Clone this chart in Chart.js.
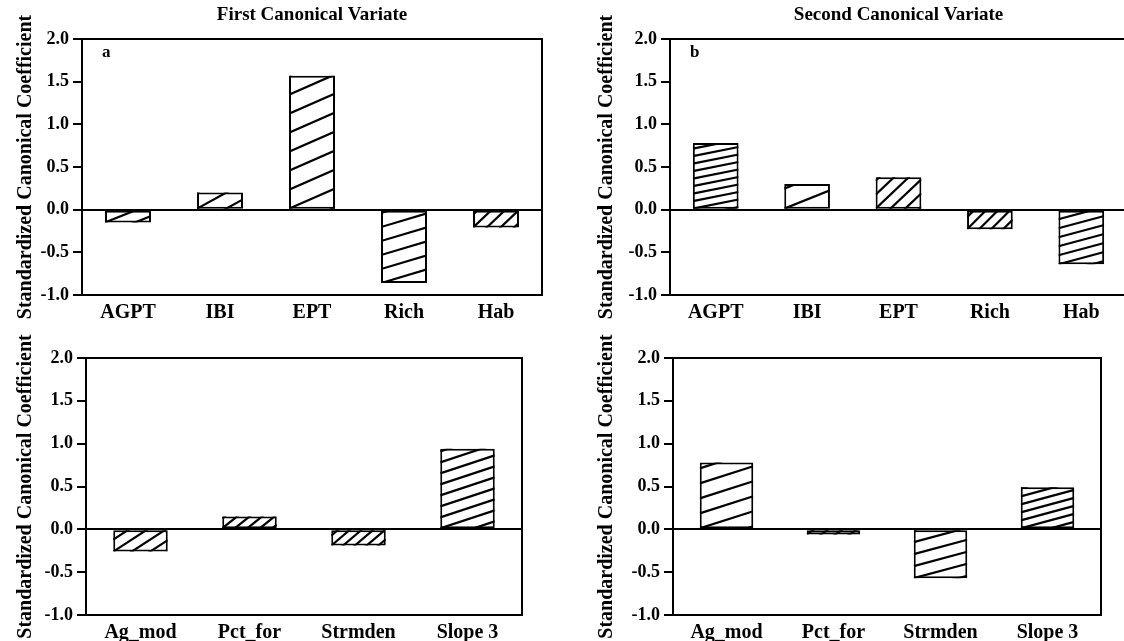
<!DOCTYPE html>
<html>
<head>
<meta charset="utf-8">
<script src="https://cdn.jsdelivr.net/npm/chart.js@4"></script>
<style>
html,body{margin:0;padding:0;background:#fff;overflow:hidden;width:1124px;height:641px;position:relative;}
canvas{position:absolute;}
</style>
</head>
<body>
<canvas id="cA"></canvas>
<canvas id="cB"></canvas>
<canvas id="cC"></canvas>
<canvas id="cD"></canvas>
<script>
// ---- data ----
const bioCategories = ['AGPT', 'IBI', 'EPT', 'Rich', 'Hab'];
const firstBio = [-0.15, 0.20, 1.57, -0.86, -0.21];
const secondBio = [0.78, 0.30, 0.38, -0.23, -0.64];
const landCategories = ['Ag_mod', 'Pct_for', 'Strmden', 'Slope 3'];
const firstLand = [-0.26, 0.15, -0.19, 0.94];
const secondLand = [0.78, -0.06, -0.57, 0.49];
const yTickValues = [-1.0, -0.5, 0.0, 0.5, 1.0, 1.5, 2.0];
const yAxisTitle = 'Standardized Canonical Coefficient';
const titleFirst = 'First Canonical Variate';
const titleSecond = 'Second Canonical Variate';

// ---- styles (hatch: [slope, vertical spacing px]) ----
const hatchA = [[0.4, 12], [0.55, 16], [0.44, 19], [0.3, 14], [0.95, 13]];
const hatchB = [[0.2, 7.5], [0.4, 20], [0.95, 14], [1.0, 12], [0.27, 9]];
const hatchC = [[0.65, 12], [0.8, 10], [0.85, 10], [0.33, 11]];
const hatchD = [[0.32, 15], [0.7, 10], [0.27, 12], [0.27, 8]];

const FONT = "'Liberation Serif', 'DejaVu Serif', serif";

const hatchPlugin = {
  id: 'hatch',
  afterDatasetsDraw(chart, args, opts) {
    const ctx = chart.ctx;
    const meta = chart.getDatasetMeta(0);
    const specs = opts.specs || [];
    meta.data.forEach((bar, i) => {
      const sp = specs[i];
      if (!sp) return;
      const p = bar.getProps(['x', 'y', 'base', 'width'], true);
      const l = p.x - p.width / 2, r = p.x + p.width / 2;
      const t = Math.min(p.y, p.base), b = Math.max(p.y, p.base);
      const w = r - l;
      const slope = sp[0], gap = sp[1];
      ctx.save();
      ctx.beginPath();
      ctx.rect(l, t, w, b - t);
      ctx.clip();
      ctx.strokeStyle = '#000';
      ctx.lineWidth = 2.2;
      const start = b + Math.ceil(slope * w / gap) * gap;
      for (let c = start; c > t - gap; c -= gap) {
        ctx.beginPath();
        ctx.moveTo(l, c);
        ctx.lineTo(r, c - slope * w);
        ctx.stroke();
      }
      ctx.restore();
    });
  }
};

const framePlugin = {
  id: 'frame',
  afterDraw(chart, args, opts) {
    const a = chart.chartArea;
    const ctx = chart.ctx;
    ctx.save();
    ctx.strokeStyle = '#000';
    ctx.lineWidth = 2;
    ctx.strokeRect(a.left, a.top, a.right - a.left, a.bottom - a.top);
    if (opts.letter) {
      ctx.fillStyle = '#000';
      ctx.font = 'bold 17px ' + FONT;
      ctx.textAlign = 'left';
      ctx.textBaseline = 'middle';
      ctx.fillText(opts.letter, a.left + 20, a.top + 14);
    }
    ctx.restore();
  }
};

function makeChart(cfg) {
  const el = document.getElementById(cfg.id);
  el.width = cfg.width;
  el.height = cfg.height;
  el.style.left = cfg.left + 'px';
  el.style.top = cfg.top + 'px';
  el.style.width = cfg.width + 'px';
  el.style.height = cfg.height + 'px';
  new Chart(el, {
    type: 'bar',
    data: {
      labels: cfg.labels,
      datasets: [{
        data: cfg.values,
        backgroundColor: '#fff',
        borderColor: '#000',
        borderWidth: 2,
        borderSkipped: false,
        barPercentage: 0.5,
        categoryPercentage: 1.0
      }]
    },
    options: {
      responsive: false,
      animation: false,
      devicePixelRatio: 1,
      layout: { padding: { top: cfg.padTop, right: cfg.padRight, left: 0, bottom: 0 } },
      plugins: {
        legend: { display: false },
        tooltip: { enabled: false },
        title: {
          display: !!cfg.title,
          text: cfg.title || '',
          fullSize: false,
          color: '#000',
          font: { family: FONT, weight: 'bold', size: 19, lineHeight: 1.2 },
          padding: { top: 4, bottom: 12.2 }
        },
        hatch: { specs: cfg.hatch },
        frame: { letter: cfg.letter }
      },
      scales: {
        x: {
          type: 'category',
          grid: { display: false },
          border: { display: false },
          ticks: { color: '#000', font: { family: FONT, weight: 'bold', size: 20 }, padding: -2, maxRotation: 0, autoSkip: false },
          afterFit: s => { s.height = cfg.xHeight; }
        },
        y: {
          type: 'linear',
          min: -1,
          max: 2,
          afterBuildTicks: s => { s.ticks = yTickValues.map(v => ({ value: v })); },
          grid: {
            drawOnChartArea: true,
            drawTicks: true,
            tickLength: 9,
            lineWidth: 2,
            tickColor: '#000',
            color: c => (c.tick && c.tick.value === 0) ? '#000' : 'rgba(0,0,0,0)'
          },
          border: { display: false },
          ticks: {
            color: '#000',
            font: { family: FONT, weight: 'bold', size: 18 },
            padding: 4,
            callback: v => Number(v).toFixed(1)
          },
          title: {
            display: true,
            text: yAxisTitle,
            color: '#000',
            font: { family: FONT, weight: 'bold', size: 20, lineHeight: 1.2 },
            padding: { top: 14, bottom: 0 }
          },
          afterFit: s => { s.width = cfg.yWidth; }
        }
      }
    },
    plugins: [hatchPlugin, framePlugin]
  });
}

makeChart({ id: 'cA', left: 0, top: 0, width: 560, height: 330, yWidth: 82, xHeight: 35, padTop: 0, padRight: 18,
  labels: bioCategories, values: firstBio, hatch: hatchA, title: titleFirst, letter: 'a' });
makeChart({ id: 'cB', left: 581, top: 0, width: 560, height: 330, yWidth: 89, xHeight: 35, padTop: 0, padRight: 14,
  labels: bioCategories, values: secondBio, hatch: hatchB, title: titleSecond, letter: 'b' });
makeChart({ id: 'cC', left: 0, top: 320, width: 540, height: 321, yWidth: 86, xHeight: 26, padTop: 38, padRight: 18,
  labels: landCategories, values: firstLand, hatch: hatchC });
makeChart({ id: 'cD', left: 581, top: 320, width: 538, height: 321, yWidth: 92, xHeight: 26, padTop: 38, padRight: 18,
  labels: landCategories, values: secondLand, hatch: hatchD });
</script>
</body>
</html>
